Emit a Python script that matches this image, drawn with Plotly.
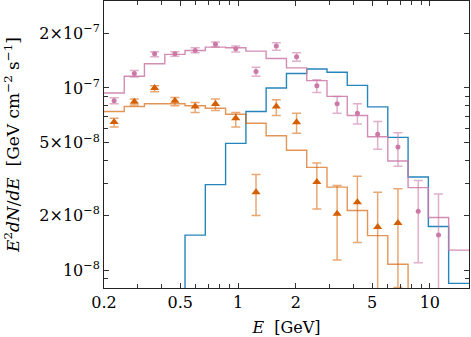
import plotly.graph_objects as go

# bin edges in GeV (18 log bins)
edges = [0.2, 0.255, 0.325, 0.415, 0.529, 0.675, 0.861, 1.099, 1.401, 1.788,
         2.280, 2.909, 3.710, 4.733, 6.037, 7.700, 9.822, 12.53, 16.0]

# model histograms, one value per bin (1e-9 = below the plotted range)
pink_model = [9.38e-8, 1.16e-7, 1.357e-7, 1.528e-7, 1.607e-7, 1.676e-7, 1.663e-7, 1.593e-7, 1.452e-7,
              1.290e-7, 1.097e-7, 8.99e-8, 7.06e-8, 5.40e-8, 3.98e-8, 2.84e-8, 1.95e-8, 1.29e-8]
blue_model = [None, None, None, 1e-9, 1.56e-8, 2.95e-8, 4.97e-8, 7.43e-8, 1.0e-7,
              1.2e-7, 1.27e-7, 1.22e-7, 1.034e-7, 7.88e-8, 5.36e-8, 3.25e-8, 1.74e-8, 8.48e-9]
orange_model = [7.43e-8, 7.91e-8, 8.19e-8, 8.19e-8, 7.99e-8, 7.75e-8, 7.18e-8, 6.41e-8, 5.47e-8,
                4.56e-8, 3.67e-8, 2.86e-8, 2.13e-8, 1.55e-8, 1.08e-8, 1e-9, 1e-9, 1e-9]

# measured points (first 17 bins for pink, 15 for orange)
pink_pts = [8.51e-8, 1.20e-7, 1.541e-7, 1.54e-7, 1.607e-7, 1.735e-7, 1.643e-7, 1.23e-7, 1.697e-7,
            1.483e-7, 1.03e-7, 8.19e-8, 7.27e-8, 5.57e-8, 4.74e-8, 2.11e-8, 1.56e-8]
pink_hi = [8.84e-8, 1.246e-7, 1.581e-7, 1.58e-7, 1.663e-7, 1.786e-7, 1.697e-7, 1.30e-7, 1.773e-7,
           1.561e-7, 1.111e-7, 8.99e-8, 8.19e-8, 6.54e-8, 5.68e-8, 3.11e-8, 2.62e-8]
pink_lo = [8.19e-8, 1.150e-7, 1.483e-7, 1.495e-7, 1.561e-7, 1.676e-7, 1.573e-7, 1.159e-7, 1.613e-7,
           1.403e-7, 9.46e-8, 7.27e-8, 6.35e-8, 4.62e-8, 3.72e-8, 1.10e-8, 2e-9]

orange_pts = [6.51e-8, 8.40e-8, 1.0e-7, 8.51e-8, 7.91e-8, 8.16e-8, 6.83e-8, 2.68e-8, 7.91e-8,
              6.49e-8, 3.05e-8, 2.04e-8, 2.36e-8, 1.73e-8, 1.82e-8]
orange_hi = [6.83e-8, 8.70e-8, 1.03e-7, 8.87e-8, 8.33e-8, 8.70e-8, 7.33e-8, 3.35e-8, 8.62e-8,
             7.27e-8, 3.88e-8, 2.92e-8, 3.28e-8, 2.68e-8, 2.80e-8]
orange_lo = [6.11e-8, 8.06e-8, 9.54e-8, 7.99e-8, 7.33e-8, 7.52e-8, 6.11e-8, 2.0e-8, 7.06e-8,
             5.64e-8, 2.17e-8, 1.14e-8, 1.42e-8, 2e-9, 8.04e-9]

PINK = "#CC79A7"
ORANGE = "#D55E00"
BLUE = "#0072B2"

centers = [(edges[i] * edges[i + 1]) ** 0.5 for i in range(len(edges) - 1)]


def step(vals, color, alpha):
    return go.Scatter(x=edges, y=list(vals) + [vals[-1]], mode="lines", line_shape="hv",
                      line=dict(color=color, width=1.4), opacity=alpha,
                      showlegend=False, hoverinfo="skip", connectgaps=False)


def points(vals, hi, lo, color, symbol, size, errcolor):
    n = len(vals)
    return go.Scatter(
        x=centers[:n], y=vals, mode="markers",
        marker=dict(color=color, symbol=symbol, size=size, line=dict(width=0)),
        error_y=dict(type="data", symmetric=False,
                     array=[h - v for h, v in zip(hi, vals)],
                     arrayminus=[v - l for v, l in zip(vals, lo)],
                     color=errcolor, thickness=1.5, width=4.5),
        showlegend=False)


fig = go.Figure()
fig.add_trace(step(blue_model, BLUE, 0.85))
fig.add_trace(step(orange_model, ORANGE, 0.65))
fig.add_trace(step(pink_model, PINK, 0.85))
fig.add_trace(points(orange_pts, orange_hi, orange_lo, ORANGE, "triangle-up", 8, "rgba(213,94,0,0.55)"))
fig.add_trace(points(pink_pts, pink_hi, pink_lo, PINK, "circle", 5, "rgba(204,121,167,0.6)"))

font = "DejaVu Serif"

fig.update_layout(
    width=471, height=337,
    margin=dict(l=104, r=2, t=1, b=49),
    paper_bgcolor="white", plot_bgcolor="white",
    font=dict(family=font, size=16, color="black"),
)

fig.update_xaxes(
    type="log", range=[-0.69897, 1.20412], automargin=False,
    tickvals=[0.2, 0.5, 1, 2, 5, 10], ticktext=["0.2", "0.5", "1", "2", "5", "10"],
    tickfont=dict(family=font, size=16),
    ticks="inside", ticklen=5, tickcolor="#333", showgrid=False, zeroline=False,
    showline=True, linecolor="#222", linewidth=1, mirror="allticks",
    minor=dict(tickvals=[0.3, 0.4, 0.6, 0.7, 0.8, 0.9, 3, 4, 6, 7, 8, 9],
               ticks="inside", ticklen=4, tickcolor="#333", showgrid=False),
    title=dict(text="<i>E</i>  [GeV]", font=dict(family=font, size=16)),
)
fig.update_yaxes(
    type="log", range=[-8.0969, -6.5229], automargin=False,
    tickvals=[1e-8, 2e-8, 5e-8, 1e-7, 2e-7],
    ticktext=["10<sup>−8</sup>", "2×10<sup>−8</sup>", "5×10<sup>−8</sup>",
              "10<sup>−7</sup>", "2×10<sup>−7</sup>"],
    tickfont=dict(family=font, size=16),
    ticks="inside", ticklen=5, tickcolor="#333", showgrid=False, zeroline=False,
    showline=True, linecolor="#222", linewidth=1, mirror="allticks",
    minor=dict(tickvals=[8e-9, 9e-9, 3e-8, 4e-8, 6e-8, 7e-8, 8e-8, 9e-8, 3e-7],
               ticks="inside", ticklen=4, tickcolor="#333", showgrid=False),
    title=dict(text="<i>E</i><sup>2</sup><i>dN</i>/<i>dE</i>  [GeV cm<sup>−2</sup> s<sup>−1</sup>]",
               font=dict(family=font, size=17)),
)

# the page's default body margin would shift the chart by 8px
fig.write_html("out.html", config={"displayModeBar": False},
               post_script="document.body.style.margin='0';document.body.style.overflow='hidden';")
